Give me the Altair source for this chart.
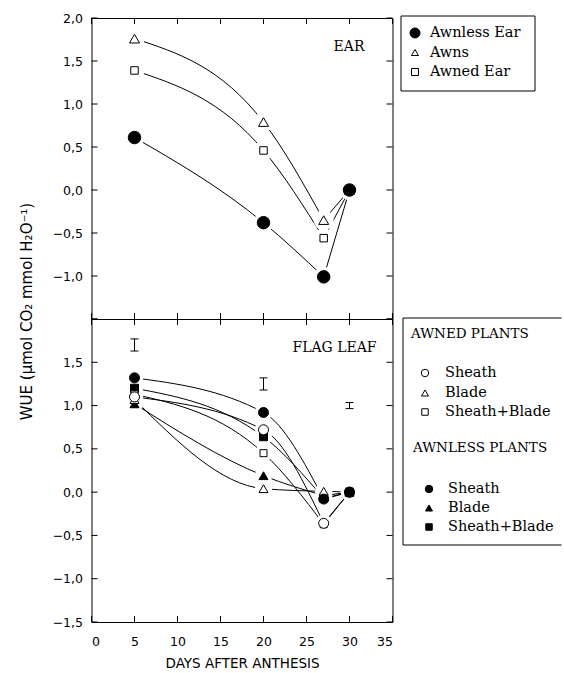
import altair as alt
import pandas as pd

# ---------------- data ----------------
days = [5, 20, 27, 30]

ear_names = ["Awnless Ear", "Awns", "Awned Ear"]
ear_awnless_ear = [0.61, -0.38, -1.01, 0.00]
ear_awns = [1.76, 0.79, -0.35, 0.00]
ear_awned_ear = [1.39, 0.46, -0.56, 0.00]

leaf_names = ["Awned Sheath", "Awned Blade", "Awned Sheath+Blade",
              "Awnless Sheath", "Awnless Blade", "Awnless Sheath+Blade"]
leaf_awned_sheath = [1.10, 0.72, -0.36, 0.00]
leaf_awned_blade = [1.07, 0.04, 0.01, 0.00]
leaf_awned_sheath_blade = [1.13, 0.45, -0.37, 0.00]
leaf_awnless_sheath = [1.32, 0.92, -0.08, 0.00]
leaf_awnless_blade = [1.02, 0.19, -0.04, 0.00]
leaf_awnless_sheath_blade = [1.20, 0.64, -0.07, 0.00]

awned_labels = ["Sheath", "Blade", "Sheath+Blade"]
awnless_labels = ["Sheath", "Blade", "Sheath+Blade"]

lsd_days = [5, 20, 30]
lsd_mid = [1.70, 1.25, 1.00]
lsd_half = [0.07, 0.07, 0.035]

x_ticks = [0, 5, 10, 15, 20, 25, 30, 35]
y_ticks = [-1.5, -1.0, -0.5, 0.0, 0.5, 1.0, 1.5, 2.0]
top_y_labels = [-1.0, -0.5, 0.0, 0.5, 1.0, 1.5, 2.0]
bottom_y_labels = [-1.5, -1.0, -0.5, 0.0, 0.5, 1.0, 1.5]

# ---------------- layout / style ----------------
SANS = "DejaVu Sans"
SERIF = "DejaVu Serif"
W = 301
HT = 301
HB = 303

xscale = alt.Scale(domain=[0, 35], nice=False, zero=False)
yscale = alt.Scale(domain=[-1.5, 2.0], nice=False, zero=False)
comma = "replace(format(datum.value, '.1f'), '.', ',')"


def long_df(names, series):
    # each curve is drawn as two pieces: decline (5-20-27) and recovery (27-30)
    rows = []
    for n, vals in zip(names, series):
        for i, (d, v) in enumerate(zip(days, vals)):
            if i <= 2:
                rows.append({"series": n, "seg": "a", "day": d, "wue": v, "pt": 1})
            if i >= 2:
                rows.append({"series": n, "seg": "b", "day": d, "wue": v, "pt": 1 if i == 3 else 0})
    return pd.DataFrame(rows)


ear_df = long_df(ear_names, [ear_awnless_ear, ear_awns, ear_awned_ear])
leaf_df = long_df(leaf_names, [leaf_awned_sheath, leaf_awned_blade, leaf_awned_sheath_blade,
                               leaf_awnless_sheath, leaf_awnless_blade, leaf_awnless_sheath_blade])

ear_styles = {
    "Awnless Ear": ("circle", "black", 156),
    "Awns": ("triangle-up", "white", 100),
    "Awned Ear": ("square", "white", 56),
}
leaf_styles = {
    "Awned Sheath": ("circle", "white", 100),
    "Awned Blade": ("triangle-up", "white", 81),
    "Awned Sheath+Blade": ("square", "white", 49),
    "Awnless Sheath": ("circle", "black", 100),
    "Awnless Blade": ("triangle-up", "black", 81),
    "Awnless Sheath+Blade": ("square", "black", 64),
}
ear_order = ["Awns", "Awned Ear", "Awnless Ear"]
leaf_order = ["Awnless Sheath+Blade", "Awnless Blade", "Awned Sheath+Blade",
              "Awned Blade", "Awned Sheath", "Awnless Sheath"]

one = pd.DataFrame({"k": [0]})


def legend_symbol(shape, fill, size, px, py):
    return alt.Chart(one).mark_point(shape=shape, filled=True, fill=fill, stroke="black",
                                     strokeWidth=1, size=size, opacity=1).encode(
        x=alt.value(px), y=alt.value(py))


def legend_text(text, px, py, size=14.5):
    return alt.Chart(one).mark_text(font=SERIF, fontSize=size, align="left", baseline="middle",
                                    color="black").encode(
        x=alt.value(px), y=alt.value(py), text=alt.value(text))


def panel(df, styles, order, H, x_axis, y_axis, halo_size, extra):
    X = alt.X("day:Q", scale=xscale, axis=x_axis)
    Y = alt.Y("wue:Q", scale=yscale, axis=y_axis)
    xt = pd.DataFrame({"day": x_ticks})
    yt = pd.DataFrame({"wue": y_ticks})
    pts = df[df["pt"] == 1]
    layers = [
        alt.Chart(xt).mark_rule(color="black", strokeWidth=1).encode(x=X, y=alt.value(H), y2=alt.value(H - 6)),
        alt.Chart(xt).mark_rule(color="black", strokeWidth=1).encode(x=X, y=alt.value(0), y2=alt.value(6)),
        alt.Chart(yt).mark_rule(color="black", strokeWidth=1).encode(y=Y, x=alt.value(0), x2=alt.value(6)),
        alt.Chart(yt).mark_rule(color="black", strokeWidth=1).encode(y=Y, x=alt.value(W - 6), x2=alt.value(W)),
        alt.Chart(df).transform_calculate(key="datum.series + '|' + datum.seg").mark_line(
            interpolate="monotone", color="black", strokeWidth=1).encode(
            x=X, y=Y, detail="key:N", order="day:Q"),
        alt.Chart(pts).mark_point(shape="circle", filled=True, color="white", opacity=1,
                                  size=halo_size).encode(x=X, y=Y),
    ]
    for name in order:
        shape, fill, size = styles[name]
        layers.append(
            alt.Chart(pts).transform_filter(alt.datum.series == name).mark_point(
                shape=shape, filled=True, fill=fill, stroke="black", strokeWidth=1,
                size=size, opacity=1).encode(x=X, y=Y))
    layers += extra(X, Y)
    return alt.layer(*layers).properties(width=W, height=H)


# ---- top panel (EAR) ----
top_y_axis = alt.Axis(values=top_y_labels, labelExpr=comma, ticks=False, domain=False, grid=False,
                      labelFont=SANS, labelFontSize=12.5, labelColor="black", labelPadding=9, title="")


def top_extra(X, Y):
    out = [alt.Chart(one).mark_text(font=SERIF, fontSize=14, align="center", baseline="middle",
                                    color="black").encode(x=alt.value(257.5), y=alt.value(29),
                                                          text=alt.value("EAR"))]
    out.append(alt.Chart(one).mark_rect(fillOpacity=0, stroke="black", strokeWidth=1).encode(
        x=alt.value(309.5), x2=alt.value(443.5), y=alt.value(-2), y2=alt.value(73)))
    for i, name in enumerate(ear_names):
        shape, fill, _ = ear_styles[name]
        sz = 100 if shape == "circle" else 49
        py = 15 + 19.5 * i
        out.append(legend_symbol(shape, fill, sz, 323.5, py))
        out.append(legend_text(name, 338.5, py))
    return out


top = panel(ear_df, ear_styles, ear_order, HT, None, top_y_axis, 400, top_extra)

# ---- bottom panel (FLAG LEAF) ----
bottom_y_axis = alt.Axis(values=bottom_y_labels, labelExpr=comma, ticks=False, domain=False, grid=False,
                         labelFont=SANS, labelFontSize=12.5, labelColor="black", labelPadding=9,
                         title="WUE (\u03bcmol CO\u2082 mmol H\u2082O\u207b\u00b9)",
                         titleFont=SANS, titleFontSize=15, titleFontWeight="normal", titleColor="black",
                         titleX=-65.5, titleY=-8, titleAlign="center", titleBaseline="middle",
                         titleAngle=270)
bottom_x_axis = alt.Axis(values=x_ticks, format="d", ticks=False, domain=False, grid=False,
                         labelFont=SANS, labelFontSize=12.5, labelColor="black", labelPadding=13,
                         title="DAYS AFTER ANTHESIS", titleFont=SANS, titleFontSize=13.5,
                         titleFontWeight="normal", titleColor="black", titlePadding=9)

lsd_df = pd.DataFrame({"day": lsd_days,
                       "lo": [m - h for m, h in zip(lsd_mid, lsd_half)],
                       "hi": [m + h for m, h in zip(lsd_mid, lsd_half)]})


def bottom_extra(X, Y):
    lo = alt.Y("lo:Q", scale=yscale, axis=bottom_y_axis)
    hi = alt.Y("hi:Q", scale=yscale, axis=bottom_y_axis)
    out = [
        alt.Chart(lsd_df).mark_rule(color="black", strokeWidth=1).encode(x=X, y=lo, y2="hi:Q"),
        alt.Chart(lsd_df).mark_tick(orient="horizontal", size=8, thickness=1, color="black",
                                    opacity=1).encode(x=X, y=lo),
        alt.Chart(lsd_df).mark_tick(orient="horizontal", size=8, thickness=1, color="black",
                                    opacity=1).encode(x=X, y=hi),
        alt.Chart(one).mark_text(font=SERIF, fontSize=14, align="center", baseline="middle",
                                 color="black").encode(x=alt.value(243), y=alt.value(29),
                                                       text=alt.value("FLAG LEAF")),
        # legend frame (right edge lies outside the picture)
        alt.Chart(one).mark_rule(color="black", strokeWidth=1).encode(
            x=alt.value(311.5), x2=alt.value(470), y=alt.value(-1)),
        alt.Chart(one).mark_rule(color="black", strokeWidth=1).encode(
            x=alt.value(311.5), x2=alt.value(470), y=alt.value(226)),
        alt.Chart(one).mark_rule(color="black", strokeWidth=1).encode(
            x=alt.value(311.5), y=alt.value(-1), y2=alt.value(226)),
        legend_text("AWNED PLANTS", 319.5, 15, 13.5),
        legend_text("AWNLESS PLANTS", 321.5, 129, 13.5),
    ]
    awned_rows = [54, 74, 93]
    awnless_rows = [170, 189, 208]
    for i, lab in enumerate(awned_labels):
        shape, fill, _ = leaf_styles[leaf_names[i]]
        sz = {"circle": 56, "triangle-up": 49, "square": 42}[shape]
        out.append(legend_symbol(shape, fill, sz, 333.5, awned_rows[i]))
        out.append(legend_text(lab, 353.5, awned_rows[i]))
    for i, lab in enumerate(awnless_labels):
        shape, fill, _ = leaf_styles[leaf_names[3 + i]]
        sz = {"circle": 56, "triangle-up": 49, "square": 42}[shape]
        out.append(legend_symbol(shape, fill, sz, 337.5, awnless_rows[i]))
        out.append(legend_text(lab, 356.5, awnless_rows[i]))
    return out


bottom = panel(leaf_df, leaf_styles, leaf_order, HB, bottom_x_axis, bottom_y_axis, 300, bottom_extra)

chart = alt.vconcat(top, bottom, spacing=0, bounds="flush").properties(
    padding={"left": 17.5, "top": 11, "right": 0, "bottom": 0},
    background="white",
).configure_view(stroke="black", strokeWidth=1)

chart.save("out.html", embed_options={"renderer": "svg", "actions": False})
